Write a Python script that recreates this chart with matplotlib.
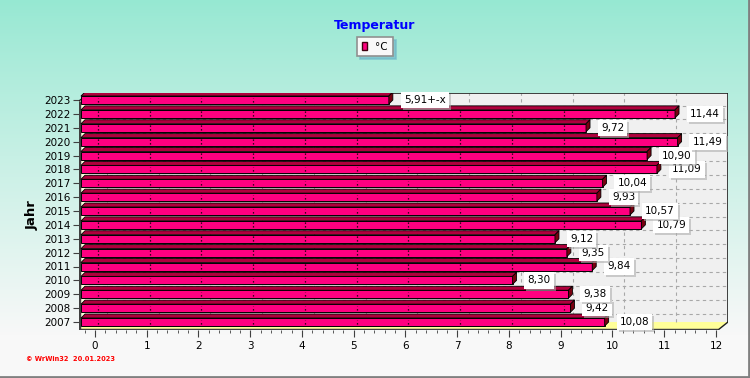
import numpy as np
import matplotlib
matplotlib.use('Agg')
import matplotlib.pyplot as plt
from matplotlib.patches import Polygon, Rectangle, Patch
from matplotlib.collections import PolyCollection
import matplotlib.patheffects as pe

plt.rcParams['font.family'] = ['DejaVu Sans']

# Data
years = list(range(2007, 2024))
temps = [10.08, 9.42, 9.38, 8.30, 9.84, 9.35, 9.12, 10.79, 10.57,
         9.93, 10.04, 11.09, 10.90, 11.49, 9.72, 11.44, 5.91]
suffix = [''] * 16 + ['+-x']          # 2023 is an incomplete year
xticks = list(range(0, 13))

bar_labels = [f'{t:.2f}'.replace('.', ',') + s for t, s in zip(temps, suffix)]
idx = np.arange(len(years))
temps = np.array(temps)

# Layout (pixels of a 750x378 image)
W, H = 750, 378
PX, PY = 51.75, 13.875          # pixels per x unit / per category
L, R, T, B = 79, 728, 93, 330   # box that holds walls and bars
ZERO_PX, FIRST_PX = 83, 322

fig = plt.figure(figsize=(W / 100, H / 100), dpi=100)

# background gradient
bg = fig.add_axes([0, 0, 1, 1], zorder=-1)
rows = np.arange(H)
tt = np.clip(rows / 335.0, 0, 1) ** 0.9
top = np.array([150, 232, 210]) / 255
bot = np.array([248, 248, 248]) / 255
grad = top + (bot - top) * tt[:, None]
bg.imshow(grad[:, None, :], extent=[0, 1, 0, 1], aspect='auto', origin='upper')
bg.plot([1 - 1.2 / W] * 2, [0, 1], color='#808080', lw=2)
bg.plot([0, 1], [1.2 / H] * 2, color='#808080', lw=2)
bg.set_xlim(0, 1)
bg.set_ylim(0, 1)
bg.axis('off')

ax = fig.add_axes([L / W, 1 - B / H, (R - L) / W, (B - T) / H])
ax.patch.set_visible(False)
x0, x1 = (L - ZERO_PX) / PX, (R - ZERO_PX) / PX
y0, y1 = (FIRST_PX - B) / PY, (FIRST_PX - T) / PY
ax.set_xlim(x0, x1)
ax.set_ylim(y0, y1)
for s in ax.spines.values():
    s.set_visible(False)

DX, DY = 10 / PX, 8 / PY
xf = x1 - DX

# walls and floor
ax.add_patch(Rectangle((x0 + DX, y0 + DY), x1 - x0 - DX, y1 - y0 - DY,
                       fc='#F0F0F0', ec='none', zorder=0))
ax.add_patch(Polygon([(x0, y0), (x0, y1 - DY), (x0 + DX, y1), (x0 + DX, y0 + DY)],
                     closed=True, fc='#FFFFE0', ec='none', zorder=0.5))
ax.add_patch(Polygon([(x0, y0), (xf, y0), (x1, y0 + DY), (x0 + DX, y0 + DY)],
                     closed=True, fc='#FFFF99', ec='none', zorder=0.5))

# dashed grid on back wall
gx = np.arange(0, 12) + 24 / PX
ax.vlines(gx, y0 + DY, y1, colors='#A8A8A8', linestyles=(0, (3, 3)), lw=0.8, zorder=1)
gy = idx[:-1] + 0.6
ax.hlines(gy, x0 + DX, x1, colors='#A8A8A8', linestyles=(0, (3, 3)), lw=0.8, zorder=1)

# wall edges
ax.plot([x0 + DX, x1, x1], [y1, y1, y0 + DY], color='#202020', lw=1.2, zorder=2)
ax.plot([xf, x1], [y0, y0 + DY], color='#202020', lw=1, zorder=2)
ax.plot([x0, x0 + DX], [y1 - DY, y1], color='#202020', lw=1, zorder=2)
ax.plot([x0, x0, xf], [y1 - DY, y0, y0], color='#404040', lw=2.5, zorder=2,
        solid_capstyle='butt')

# 3D bars
BH = 8 / PY
BDX, BDY = 4 / PX, 4 / PY
xl = -2 / PX
ax.barh(idx, temps - xl, left=xl, height=BH, color='#FF0080',
        edgecolor='black', lw=0.7, zorder=3)
tops = [[(xl, i + BH / 2), (xl + BDX, i + BH / 2 + BDY),
         (t + BDX, i + BH / 2 + BDY), (t, i + BH / 2)] for i, t in zip(idx, temps)]
sides = [[(t, i - BH / 2), (t, i + BH / 2), (t + BDX, i + BH / 2 + BDY),
          (t + BDX, i - BH / 2 + BDY)] for i, t in zip(idx, temps)]
ax.add_collection(PolyCollection(tops, facecolors='#B0003C', edgecolors='black',
                                 linewidths=0.6, zorder=3))
ax.add_collection(PolyCollection(sides, facecolors='#780010', edgecolors='black',
                                 linewidths=0.6, zorder=3))

# dotted grid marks showing across the bars
mx, mb, mt = [], [], []
for i, t in zip(idx, temps):
    for g in np.arange(0, 12) + 15 / PX:
        if g < t - 0.1:
            mx.append(g)
            mb.append(i - BH / 2 + 2 / PY)
            mt.append(i + BH / 2 - 1.5 / PY)
ax.vlines(mx, mb, mt, colors='black', linestyles=(0, (1, 2)), lw=0.9, zorder=4)

# value labels
for i, t, lab in zip(idx, temps, bar_labels):
    txt = ax.annotate(lab, xy=(t + BDX, i), xytext=(11, 0), textcoords='offset pixels',
                      ha='left', va='center', fontsize=7.5, color='black', zorder=5,
                      annotation_clip=False,
                      bbox=dict(boxstyle='square,pad=0.3', fc='white', ec='none'))
    txt.get_bbox_patch().set_path_effects(
        [pe.SimplePatchShadow(offset=(1.5, -1.5), shadow_rgbFace='#B0B0B0', alpha=0.6),
         pe.Normal()])

# ticks
ax.set_yticks(idx, [str(y) for y in years])
ax.tick_params(axis='y', length=4.3, pad=1.5, width=0.8, color='#404040', labelsize=7.5)
ax.set_xticks(np.array(xticks) + 12 / PX, [str(v) for v in xticks])
ax.set_xticks(np.arange(-0.2, 12.01, 0.2) + 12 / PX, minor=True)
ax.tick_params(axis='x', which='major', length=5, pad=3, width=0.8, color='#404040',
               labelsize=7.5)
ax.tick_params(axis='x', which='minor', length=2.5, width=0.6, color='#404040')

# texts
fig.text(0.5, 1 - 29.5 / H, 'Temperatur', ha='center', va='baseline',
         color='#0000FF', fontsize=9, fontweight='bold')
fig.text(32 / W, 1 - 215 / H, 'Jahr', ha='center', va='center', rotation=90,
         fontsize=9.5, fontweight='bold')
fig.text(26 / W, 1 - 359 / H, '© WrWin32  20.01.2023', ha='left', va='center',
         color='red', fontsize=4.8, fontweight='bold')

# legend
handles = [Patch(facecolor='#FF0080', edgecolor='#400010', label='°C')]
leg = fig.legend(handles=handles, loc='upper center', bbox_to_anchor=(375 / W, 1 - 37 / H),
                 fontsize=7.5, frameon=True, fancybox=False,
                 shadow={'color': '#70B8C8', 'alpha': 0.7},
                 handlelength=0.5, handleheight=0.9, handletextpad=0.8,
                 borderpad=0.45, borderaxespad=0)
leg.get_frame().set_facecolor('#F8F8F8')
leg.get_frame().set_edgecolor('#909090')
leg.get_frame().set_linewidth(1.2)

fig.savefig('out.png', dpi=100)
